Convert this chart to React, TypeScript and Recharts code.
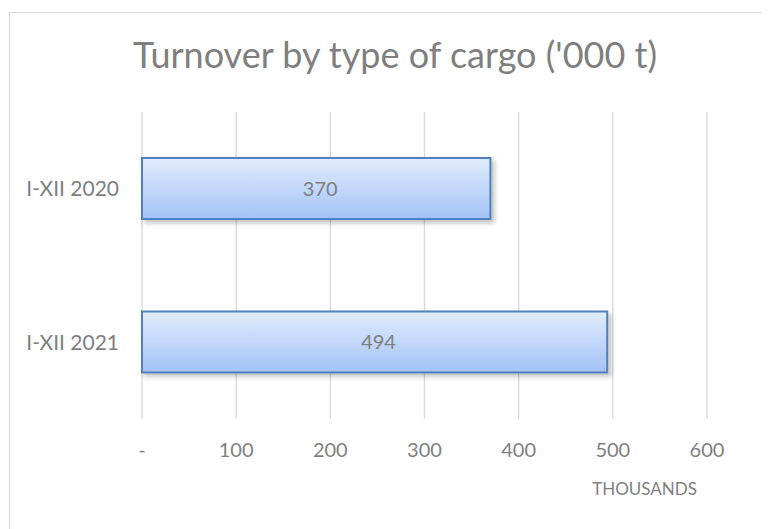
import { BarChart, Bar, XAxis, YAxis, CartesianGrid, LabelList } from 'recharts';

const periods = ['I-XII 2020', 'I-XII 2021'];
const turnover = [370, 494];
const xTicks = [0, 100, 200, 300, 400, 500, 600];

const data = periods.map((period, i) => ({ period, value: turnover[i] }));

const FONT = 'Lato, "Open Sans", sans-serif';
const GREY = '#7f7f7f';

export default function App() {
  return (
    <div
      style={{
        position: 'relative',
        marginLeft: 1,
        marginTop: 4,
        width: 772,
        height: 530,
        border: '1px solid #d9d9d9',
        boxSizing: 'border-box',
        fontFamily: FONT,
        background: '#fff',
      }}
    >
      <div
        style={{
          position: 'absolute',
          top: 19,
          left: 0,
          width: 770,
          textAlign: 'center',
          fontSize: 36,
          lineHeight: '44px',
          color: GREY,
        }}
      >
        Turnover by type of cargo ('000 t)
      </div>
      <div style={{ position: 'absolute', top: 0, left: 0 }}>
        <BarChart
          width={770}
          height={528}
          data={data}
          layout="vertical"
          margin={{ top: 99, right: 73, bottom: 36, left: 0 }}
          barCategoryGap="30%"
        >
          <defs>
            <linearGradient id="barFill" x1="0" y1="0" x2="0" y2="1">
              <stop offset="0%" stopColor="#e1ecfd" />
              <stop offset="100%" stopColor="#a3c2f6" />
            </linearGradient>
            <filter id="barShadow" x="-10%" y="-20%" width="120%" height="150%">
              <feDropShadow dx="3" dy="3" stdDeviation="2.5" floodColor="#000" floodOpacity="0.25" />
            </filter>
          </defs>
          <CartesianGrid horizontal={false} stroke="#d9d9d9" strokeWidth={1.3} />
          <XAxis
            type="number"
            domain={[0, 600]}
            ticks={xTicks}
            tickFormatter={(v: number) => (v === 0 ? '-' : String(v))}
            axisLine={false}
            tickLine={false}
            tickSize={0}
            tickMargin={24}
            height={86}
            tick={{ fill: GREY, fontSize: 20, fontFamily: FONT }}
            label={{
              value: 'THOUSANDS',
              position: 'insideBottomRight',
              offset: 10,
              fill: GREY,
              fontSize: 17,
              fontFamily: FONT,
            }}
          />
          <YAxis
            type="category"
            dataKey="period"
            width={132}
            axisLine={false}
            tickLine={false}
            tickSize={0}
            tickMargin={23}
            tick={{ fill: GREY, fontSize: 21, fontFamily: FONT }}
          />
          <Bar
            dataKey="value"
            fill="url(#barFill)"
            stroke="#4f81bd"
            strokeWidth={2}
            filter="url(#barShadow)"
            isAnimationActive={false}
          >
            <LabelList
              dataKey="value"
              position="center"
              dx={4}
              fill={GREY}
              fontSize={20}
              fontFamily={FONT}
            />
          </Bar>
        </BarChart>
      </div>
    </div>
  );
}
